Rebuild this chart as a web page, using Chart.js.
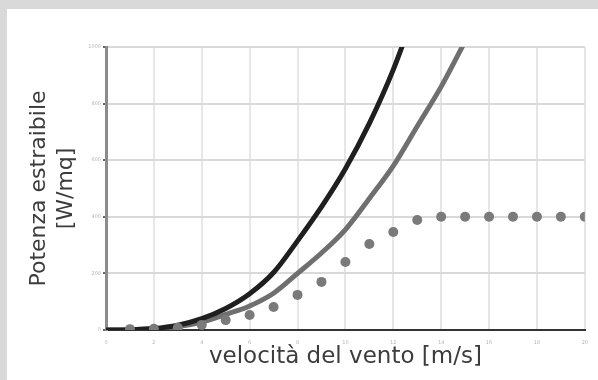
<!DOCTYPE html>
<html>
<head>
<meta charset="utf-8">
<script src="https://cdn.jsdelivr.net/npm/chart.js@4.4.1/dist/chart.umd.min.js"></script>
<style>
  html, body { margin: 0; padding: 0; }
  body { width: 598px; height: 380px; background: #d9d9d9; overflow: hidden; position: relative; }
  #box { position: absolute; left: 7px; top: 9px; width: 591px; height: 371px; background: #fff; }
</style>
</head>
<body>
<div id="box"><canvas id="chartCanvas" width="591" height="371"></canvas></div>
<script>
// velocità del vento [m/s]
const velocita = [0, 1, 2, 3, 4, 5, 6, 7, 8, 9, 10, 11, 12, 13, 14, 15, 16, 17, 18, 19, 20];
// potenza del vento (curva nera), da 0 a 13 m/s
const potenzaVento = [0, 1, 5, 17, 40, 76, 128, 203, 315, 435, 570, 730, 920, 1150];
// limite di Betz (curva grigia), da 0 a 15 m/s
const potenzaBetz = [0, 1, 4, 12, 28, 55, 85, 130, 200, 272, 355, 465, 580, 720, 860, 1020];
// potenza della turbina (punti), da 1 a 20 m/s
const velocitaTurbina = [1, 2, 3, 4, 5, 6, 7, 8, 9, 10, 11, 12, 13, 14, 15, 16, 17, 18, 19, 20];
const potenzaTurbina = [3, 4, 8, 18, 35, 53, 81, 124, 170, 240, 304, 346, 389, 400, 400, 400, 400, 400, 400, 400];
const yTicks = [0, 200, 400, 600, 800, 1000];

const toPoints = (xs, ys) => ys.map((y, i) => ({ x: xs[i], y: y }));

const ctx = document.getElementById("chartCanvas");

new Chart(ctx, {
    type: 'line',
    data: {
        datasets: [{
            label: 'turbina',
            data: toPoints(velocitaTurbina, potenzaTurbina),
            showLine: false,
            pointRadius: 5,
            pointBackgroundColor: '#7a7a7a',
            pointBorderWidth: 0
        }, {
            label: 'vento',
            data: toPoints(velocita, potenzaVento),
            borderColor: '#1f1f1f',
            borderWidth: 5,
            pointRadius: 0,
            cubicInterpolationMode: 'monotone'
        }, {
            label: 'Betz',
            data: toPoints(velocita, potenzaBetz),
            borderColor: '#6f6f6f',
            borderWidth: 5,
            pointRadius: 0,
            cubicInterpolationMode: 'monotone'
        }]
    },
    options: {
        responsive: false,
        animation: false,
        layout: { padding: { left: 17, top: 38, right: 11, bottom: 0 } },
        plugins: { legend: { display: false }, tooltip: { enabled: false } },
        scales: {
            x: {
                type: 'linear',
                min: 0,
                max: 20,
                afterFit: (s) => { s.height = 50; },
                border: { color: '#333', width: 2 },
                grid: { color: '#e6e6e6', lineWidth: 2, drawTicks: false },
                ticks: { stepSize: 2, padding: 10, color: '#b5b5b5', font: { family: 'DejaVu Sans', size: 5 } },
                title: {
                    display: true,
                    text: 'velocità del vento [m/s]',
                    color: '#3c3c3c',
                    font: { family: 'DejaVu Sans', size: 23 },
                    padding: { top: 0, bottom: 9 }
                }
            },
            y: {
                min: 0,
                max: 1000,
                afterFit: (s) => { s.width = 82; },
                afterBuildTicks: (s) => { s.ticks = yTicks.map(v => ({ value: v })); },
                border: { color: '#8c8c8c', width: 3 },
                grid: { color: '#d9d9d9', lineWidth: 2, tickLength: 3, tickColor: '#666' },
                ticks: {
                    padding: 2,
                    color: '#b5b5b5',
                    font: { family: 'DejaVu Sans', size: 5 },
                    callback: (v) => String(v)
                },
                title: {
                    display: true,
                    text: ['Potenza estraibile', '[W/mq]'],
                    color: '#3c3c3c',
                    font: { family: 'DejaVu Sans', size: 22, lineHeight: 1.23 },
                    padding: { top: 2, bottom: 0 }
                }
            }
        }
    }
});
</script>
</body>
</html>
